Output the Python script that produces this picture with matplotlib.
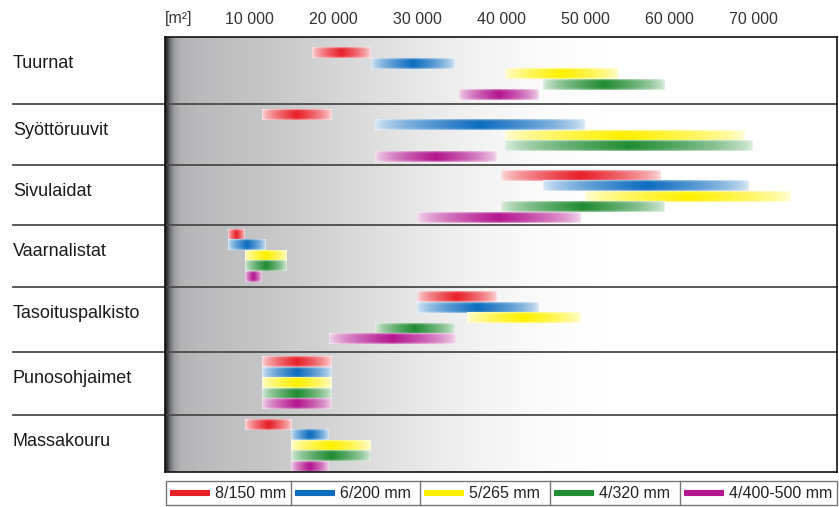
import numpy as np
import matplotlib
matplotlib.use('Agg')
import matplotlib.pyplot as plt
from matplotlib.colors import to_rgb
from matplotlib.patches import Rectangle

plt.rcParams['font.family'] = ['Liberation Sans', 'DejaVu Sans']

# ---------------- data ----------------
categories = ['Tuurnat', 'Syöttöruuvit', 'Sivulaidat', 'Vaarnalistat',
              'Tasoituspalkisto', 'Punosohjaimet', 'Massakouru']
series_labels = ['8/150 mm', '6/200 mm', '5/265 mm', '4/320 mm', '4/400-500 mm']
series_colors = ['#e8202a', '#0d6cbf', '#fff000', '#218c32', '#b3168f']

# (start, end) in m² for each category, per series
range_8_150 = [(17500, 24500), (11500, 19800), (40000, 59000), (7500, 9500),
               (30000, 39500), (11500, 19800), (9500, 15000)]
range_6_200 = [(24500, 34500), (25000, 50000), (45000, 69500), (7500, 12000),
               (30000, 44500), (11500, 19800), (15000, 19500)]
range_5_265 = [(40500, 54000), (40500, 69000), (50000, 74500), (9500, 14500),
               (36000, 49500), (11500, 19800), (15000, 24500)]
range_4_320 = [(45000, 59500), (40500, 70000), (40000, 59500), (9500, 14500),
               (25000, 34500), (11500, 19800), (15000, 24500)]
range_4_400_500 = [(35000, 44500), (25000, 39500), (30000, 49500), (9500, 11500),
                   (19500, 34500), (11500, 19800), (15000, 19500)]
all_ranges = [range_8_150, range_6_200, range_5_265, range_4_320, range_4_400_500]

tick_values = [10000, 20000, 30000, 40000, 50000, 60000, 70000]
tick_labels = ['10 000', '20 000', '30 000', '40 000', '50 000', '60 000', '70 000']
unit_label = '[m²]'

# ---------------- layout ----------------
W, H = 839, 507
AX_L, AX_R, AX_T, AX_B = 165, 837, 37, 472
XMAX = 80000
row_edges = [37, 104, 165, 225, 287, 352, 415, 472]
first_bar_offset = [16, 10.5, 10.5, 9.5, 10, 10, 9.5]
bar_step = 10.5
bar_h = 10.5


def px2x(px):
    return (px - AX_L) / (AX_R - AX_L) * XMAX


fig = plt.figure(figsize=(W / 100, H / 100), dpi=100)
ax = fig.add_axes([AX_L / W, (H - AX_B) / H, (AX_R - AX_L) / W, (AX_B - AX_T) / H])

# background gradient (dark left edge fading to white)
d_nodes = np.array([0, 2, 5, 9, 16, 40, 100, 170, 240, 310, 380, 440, 672])
v_nodes = np.array([0.15, 0.25, 0.47, 0.63, 0.71, 0.74, 0.78, 0.84, 0.9, 0.95, 0.985, 1.0, 1.0])
d = np.linspace(0, AX_R - AX_L, 700)
v = np.interp(d, d_nodes, v_nodes)
tint = np.array([1.03, 1.02, 1.0])
bg = np.clip(1 - (1 - v)[:, None] * tint[None, :], 0, 1)[None, :, :]
ax.imshow(bg, extent=(0, XMAX, AX_B, AX_T), aspect='auto', interpolation='bilinear', zorder=0)

# gradient bars
N = 240
u = np.linspace(0, 1, N)
w = 1 - np.abs(2 * u - 1)
s_h = 0.13 + 0.87 * w ** 0.65
vprof = np.array([0.55, 0.85, 0.97, 1, 1, 1, 1, 1, 1, 0.97, 0.85, 0.55])
for i, ranges in enumerate(all_ranges):
    c = np.array(to_rgb(series_colors[i]))
    s = vprof[:, None] * s_h[None, :]
    img = 1 - s[..., None] * (1 - c[None, None, :])
    for r, (x0, x1) in enumerate(ranges):
        yc = row_edges[r] + first_bar_offset[r] + bar_step * i
        ax.imshow(img, extent=(x0, x1, yc + bar_h / 2, yc - bar_h / 2),
                  aspect='auto', interpolation='bilinear', zorder=2)

ax.set_xlim(0, XMAX)
ax.set_ylim(AX_B, AX_T)

# row separators extending to the left
for y in row_edges[1:-1]:
    ax.plot([px2x(13), XMAX], [y, y], color='#4a4a4a', lw=1.3, clip_on=False, zorder=3)

# row labels
for r, name in enumerate(categories):
    ax.text(px2x(13), row_edges[r] + 31, name, fontsize=13, color='#1a1a1a',
            ha='left', va='baseline', clip_on=False)

# top axis
ax.set_yticks([])
ax.set_xticks(tick_values, tick_labels)
ax.tick_params(axis='x', top=True, bottom=False, labeltop=True, labelbottom=False,
               length=0, pad=7.5, labelsize=11.5, labelcolor='#333333')
ax.text(0, 23, unit_label, fontsize=11.5, color='#333333', ha='left', va='baseline',
        clip_on=False)
for sp in ax.spines.values():
    sp.set_color('#111111')
    sp.set_linewidth(1.2)
    sp.set_zorder(4)

# legend (boxed cells below the chart)
leg_top, leg_bot = 481, 505
cell_edges = [166, 291, 420, 550, 680, 837]
ax.add_patch(Rectangle((px2x(cell_edges[0]), leg_top), px2x(cell_edges[-1]) - px2x(cell_edges[0]),
                       leg_bot - leg_top, fill=False, edgecolor='#777777', lw=1.0, clip_on=False))
for e in cell_edges[1:-1]:
    ax.plot([px2x(e), px2x(e)], [leg_top, leg_bot], color='#777777', lw=1.0, clip_on=False)
ymid = (leg_top + leg_bot) / 2
for i, lab in enumerate(series_labels):
    cl = cell_edges[i]
    ax.plot([px2x(cl + 4), px2x(cl + 44)], [ymid, ymid], color=series_colors[i],
            lw=4.4, solid_capstyle='butt', clip_on=False)
    ax.text(px2x(cl + 49), ymid + 0.5, lab, fontsize=11.5, color='#222222',
            ha='left', va='center', clip_on=False)

fig.savefig('out.png', dpi=100)
